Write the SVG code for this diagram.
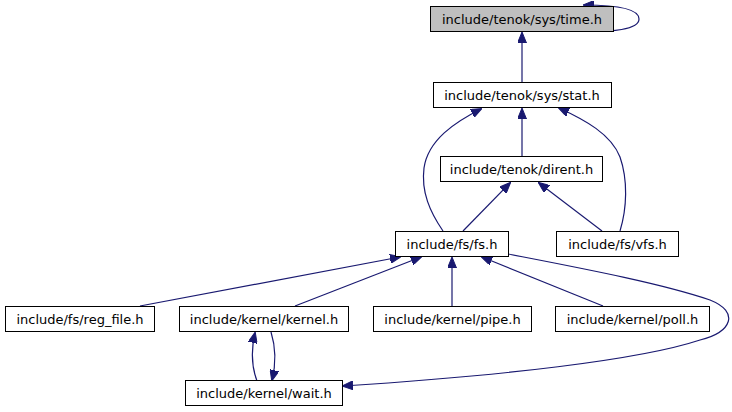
<svg xmlns="http://www.w3.org/2000/svg" width="732" height="412" viewBox="0 0 732 412">
<defs>
<marker id="arr" markerWidth="11" markerHeight="9" refX="10" refY="4.5" orient="auto" markerUnits="userSpaceOnUse">
<path d="M0,0 L11,4.5 L0,9 z" fill="#191970" stroke="#191970" stroke-width="1"/>
</marker>
<style>
.n rect{fill:#ffffff;stroke:#000000;stroke-width:1}
.n text{font-family:"DejaVu Sans",sans-serif;font-size:13px;fill:#000000;text-anchor:middle}
#edges path{fill:none;stroke:#191970;stroke-width:1.2;marker-end:url(#arr)}
</style>
</defs>
<rect width="732" height="412" fill="#ffffff"/>
<g id="edges">
<path d="M572,31 C615,33 639,29 639,19 C639,9 620,5 584,5"/>
<path d="M522,82 L522,33"/>
<path d="M522,156 L522,109"/>
<path d="M443,231 C430,212 421,192 424,168 C428,140 455,122 481,109"/>
<path d="M620,231 C627,208 628,180 620,157 C611,134 585,120 559,108"/>
<path d="M463,231 L510,183"/>
<path d="M602,231 L539,183"/>
<path d="M140,306 L400,257"/>
<path d="M295,306 L421,257"/>
<path d="M452,306 L452,258"/>
<path d="M603,306 L482,257"/>
<path d="M508,254 C580,268 660,283 710,300 C740,312 732,332 700,340 C640,360 500,376 343,386"/>
<path d="M257,381 C251,365 251,350 255,333"/>
<path d="M271,332 C276,348 276,364 272,380"/>
</g>
<g id="n_time" class="n"><rect x="430.5" y="6.5" width="183" height="25" style="fill:#bfbfbf"/><text x="522" y="24">include/tenok/sys/time.h</text></g>
<g id="n_stat" class="n"><rect x="433.5" y="82.5" width="178" height="25"/><text x="522" y="100">include/tenok/sys/stat.h</text></g>
<g id="n_dirent" class="n"><rect x="440.5" y="156.5" width="162" height="25"/><text x="521.5" y="174">include/tenok/dirent.h</text></g>
<g id="n_fs" class="n"><rect x="395.5" y="231.5" width="113" height="25"/><text x="452" y="249">include/fs/fs.h</text></g>
<g id="n_vfs" class="n"><rect x="556.5" y="231.5" width="122" height="25"/><text x="617.5" y="249">include/fs/vfs.h</text></g>
<g id="n_regfile" class="n"><rect x="5.5" y="306.5" width="149" height="25"/><text x="80" y="324">include/fs/reg_file.h</text></g>
<g id="n_kernel" class="n"><rect x="179.5" y="306.5" width="169" height="25"/><text x="264" y="324">include/kernel/kernel.h</text></g>
<g id="n_pipe" class="n"><rect x="373.5" y="306.5" width="158" height="25"/><text x="452.5" y="324">include/kernel/pipe.h</text></g>
<g id="n_poll" class="n"><rect x="555.5" y="306.5" width="154" height="25"/><text x="632.5" y="324">include/kernel/poll.h</text></g>
<g id="n_wait" class="n"><rect x="185.5" y="380.5" width="157" height="25"/><text x="264" y="398">include/kernel/wait.h</text></g>
</svg>
